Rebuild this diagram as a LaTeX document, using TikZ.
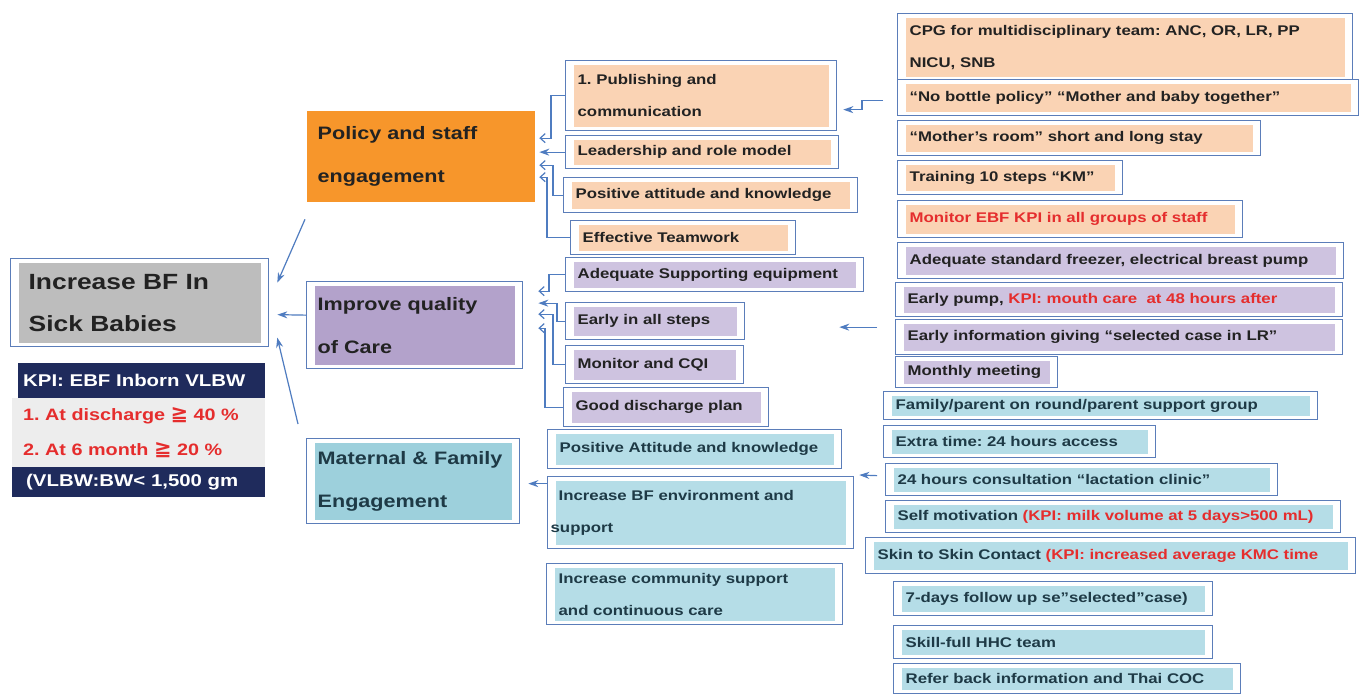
\documentclass[tikz,border=0pt]{standalone}
\usepackage{fontspec}
\setmainfont[FakeStretch=1.2]{Liberation Sans}
\newfontfamily\symfont{DejaVu Sans}
\usetikzlibrary{arrows.meta,calc}
\frenchspacing
\definecolor{bordc}{HTML}{5B7DB9}
\definecolor{linec}{HTML}{4F7CC0}
\definecolor{peach}{HTML}{FAD3B4}
\definecolor{lilac}{HTML}{CEC3E0}
\definecolor{aqua}{HTML}{B5DDE7}
\definecolor{orangeA}{HTML}{F7962B}
\definecolor{lilacA}{HTML}{B3A2CB}
\definecolor{aquaA}{HTML}{9DD0DC}
\definecolor{greyA}{HTML}{BDBDBD}
\definecolor{navy}{HTML}{1F2B5C}
\definecolor{kpired}{HTML}{E52D2D}
\definecolor{inkc}{HTML}{222222}
\definecolor{aquaink}{HTML}{1E3A46}
\def\cellfont{\fontsize{14}{32}\selectfont\bfseries}
\def\headfont{\fontsize{18}{43}\selectfont\bfseries}
\def\goalfont{\fontsize{22}{42}\selectfont\bfseries}
\def\kpifont{\fontsize{17}{35}\selectfont\bfseries}
\newcommand\geqmark{{\symfont\bfseries\fontsize{21}{35}\selectfont ≧}}
\tikzset{
  cell/.style={draw=bordc, line width=1.3pt, fill=white, anchor=north west,
    inner xsep=12pt, inner ysep=0pt, align=left, text=inkc, font=\cellfont,
    path picture={\fill[#1] ([shift={(8pt,-4pt)}]path picture bounding box.north west)
      rectangle ([shift={(-8pt,4pt)}]path picture bounding box.south east);}},
  wh/.code 2 args={\pgfkeysgetvalue{/pgf/inner xsep}\cellpad
    \pgfmathsetmacro\cellw{#1-2*\cellpad}%
    \edef\cellset{\noexpand\pgfkeysalso{minimum width=#1pt,minimum height=#2pt,text width=\cellw pt}}%
    \cellset},
  head/.style={cell=#1, inner xsep=11pt, font=\headfont},
  band/.style={fill=#1, anchor=north west, inner ysep=0pt, align=left, font=\kpifont},
  conn/.style={draw=linec, line width=1.2pt},
  tip/.style={conn, -{Stealth[length=10pt,width=7pt]}},
  barb/.style={conn, -{Straight Barb[length=5pt,width=9pt]}},
}

\begin{document}
\begin{tikzpicture}[x=1pt,y=-1pt]
    \fill[white] (0,0) rectangle (1364,695);

    % goal and KPI
    \node[cell=greyA, inner xsep=18pt, wh={258}{88}, font=\goalfont] (goal) at (10,258) {Increase BF In\\Sick Babies};
    \node[band=navy, text=white, inner xsep=5pt, wh={247}{35}] (kpihead) at (18,363) {KPI: EBF Inborn VLBW};
    \node[band=black!7, text=kpired, inner xsep=11pt, wh={253}{69}, font=\fontsize{16.5}{35}\selectfont\bfseries] (kpibody) at (12,398)
      {1. At discharge \geqmark{} 40 \%\\2. At 6 month \geqmark{} 20 \%};
    \node[band=navy, text=white, inner xsep=14pt, wh={253}{30}] (kpifoot) at (12,467) {(VLBW:BW< 1,500 gm};

    % main areas
    \node[head=orangeA, draw=none, fill=orangeA, wh={228}{91}] (policy) at (306,110) {Policy and staff\\engagement};
    \node[head=lilacA, wh={216}{87}] (improve) at (306,281) {Improve quality\\of Care};
    \node[head=aquaA, text=aquaink, wh={213}{85}] (maternal) at (306,438) {Maternal \& Family\\Engagement};

    % policy items
    \node[cell=peach, wh={271}{70}] (pub) at (565,60) {1. Publishing and\\communication};
    \node[cell=peach, wh={273}{33}] (lead) at (565,135) {Leadership and role model};
    \node[cell=peach, wh={294}{35}] (posatt) at (563,177) {Positive attitude and knowledge};
    \node[cell=peach, wh={225}{34}] (team) at (570,220) {Effective Teamwork};

    % quality items
    \node[cell=lilac, wh={298}{34}] (adeq) at (565,257) {Adequate Supporting equipment};
    \node[cell=lilac, wh={179}{37}] (early) at (565,302) {Early in all steps};
    \node[cell=lilac, wh={178}{38}] (moncqi) at (565,345) {Monitor and CQI};
    \node[cell=lilac, wh={205}{39}] (good) at (563,387) {Good discharge plan};

    % family items
    \node[cell=aqua, text=aquaink, wh={294}{39}] (famatt) at (547,429) {Positive Attitude and knowledge};
    \node[cell=aqua, text=aquaink, inner xsep=3pt, wh={306}{72}] (env) at (547,476) {\hspace*{8pt}Increase BF environment and\\support};
    \node[cell=aqua, text=aquaink, wh={296}{61}] (commu) at (546,563) {Increase community support\\and continuous care};

    % details, policy
    \node[cell=peach, wh={455}{67}] (cpg) at (897,13) {CPG for multidisciplinary team: ANC, OR, LR, PP\\NICU, SNB};
    \node[cell=peach, wh={461}{36}] (nobottle) at (897,79) {“No bottle policy” “Mother and baby together”};
    \node[cell=peach, wh={363}{35}] (momroom) at (897,120) {“Mother’s room” short and long stay};
    \node[cell=peach, wh={225}{34}] (train) at (897,160) {Training 10 steps “KM”};
    \node[cell=peach, text=kpired, wh={345}{37}] (monkpi) at (897,200) {Monitor EBF KPI in all groups of staff};

    % details, quality
    \node[cell=lilac, wh={446}{36}] (freezer) at (897,242) {Adequate standard freezer, electrical breast pump};
    \node[cell=lilac, wh={447}{34}] (pump) at (895,282) {Early pump, \textcolor{kpired}{KPI: mouth care\ \ at 48 hours after}};
    \node[cell=lilac, wh={447}{35}] (earlyinfo) at (895,319) {Early information giving “selected case in LR”};
    \node[cell=lilac, wh={162}{31}] (monthly) at (895,356) {Monthly meeting};

    % details, family
    \node[cell=aqua, text=aquaink, wh={434}{28}] (family) at (883,391) {Family/parent on round/parent support group};
    \node[cell=aqua, text=aquaink, wh={272}{32}] (extra) at (883,425) {Extra time: 24 hours access};
    \node[cell=aqua, text=aquaink, wh={392}{32}] (consult) at (885,463) {24 hours consultation “lactation clinic”};
    \node[cell=aqua, text=aquaink, wh={455}{32}] (selfmot) at (885,500) {Self motivation \textcolor{kpired}{(KPI: milk volume at 5 days>500 mL)}};
    \node[cell=aqua, text=aquaink, wh={490}{36}] (skin) at (865,537) {Skin to Skin Contact \textcolor{kpired}{(KPI: increased average KMC time}};
    \node[cell=aqua, text=aquaink, wh={319}{34}] (follow) at (893,581) {7-days follow up se”selected”case)};
    \node[cell=aqua, text=aquaink, wh={319}{33}] (skill) at (893,625) {Skill-full HHC team};
    \node[cell=aqua, text=aquaink, wh={347}{30}] (refer) at (893,663) {Refer back information and Thai COC};

    % into the goal
    \draw[tip] ($(policy.south west)+(-1,17)$) -- ($(goal.east)+(8,-20)$);
    \draw[tip] ($(improve.west)+(0,-10)$) -- ($(goal.east)+(8,12)$);
    \draw[tip] ($(maternal.north west)+(-8,-14)$) -- ($(goal.east)+(8,35)$);

    % into the areas
    \draw[barb] (pub.west) -- ++(-14,0) |- ($(policy.east)+(4,-18)$);
    \draw[tip] (lead.west) -- ($(lead.west -| policy.east)+(4,0)$);
    \draw[barb] (posatt.west) -- ++(-10,0) |- ($(policy.east)+(4,9)$);
    \draw[barb] (team.west) -- ++(-23,0) |- ($(policy.east)+(4,21)$);
    \draw[barb] (adeq.west) -- ++(-16,0) |- ($(improve.east)+(15,-34)$);
    \draw[tip] (early.west) -- ++(-8,0) |- ($(improve.east)+(15,-22)$);
    \draw[barb] (moncqi.west) -- ++(-12,0) |- ($(improve.east)+(15,-11)$);
    \draw[barb] (good.west) -- ++(-18,0) |- ($(improve.east)+(15,3)$);
    \coordinate (envin) at ($(env.west)+(0,-29)$);
    \draw[tip] (envin) -- ($(envin -| maternal.east)+(8,0)$);

    % into the items
    \coordinate (polin) at ($(nobottle.west)+(-14,3)$);
    \draw[tip] (polin) -- ++(-21,0) |- ($(pub.east)+(6,14)$);
    \coordinate (carein) at ($(earlyinfo.west)+(-18,-10)$);
    \draw[tip] (carein) -- ($(early.east)+(94,6)$);
    \coordinate (famin) at ($(consult.west)+(-8,-4)$);
    \draw[tip] (famin) -- ($(env.north east)+(5,-1)$);
\end{tikzpicture}
\end{document}
